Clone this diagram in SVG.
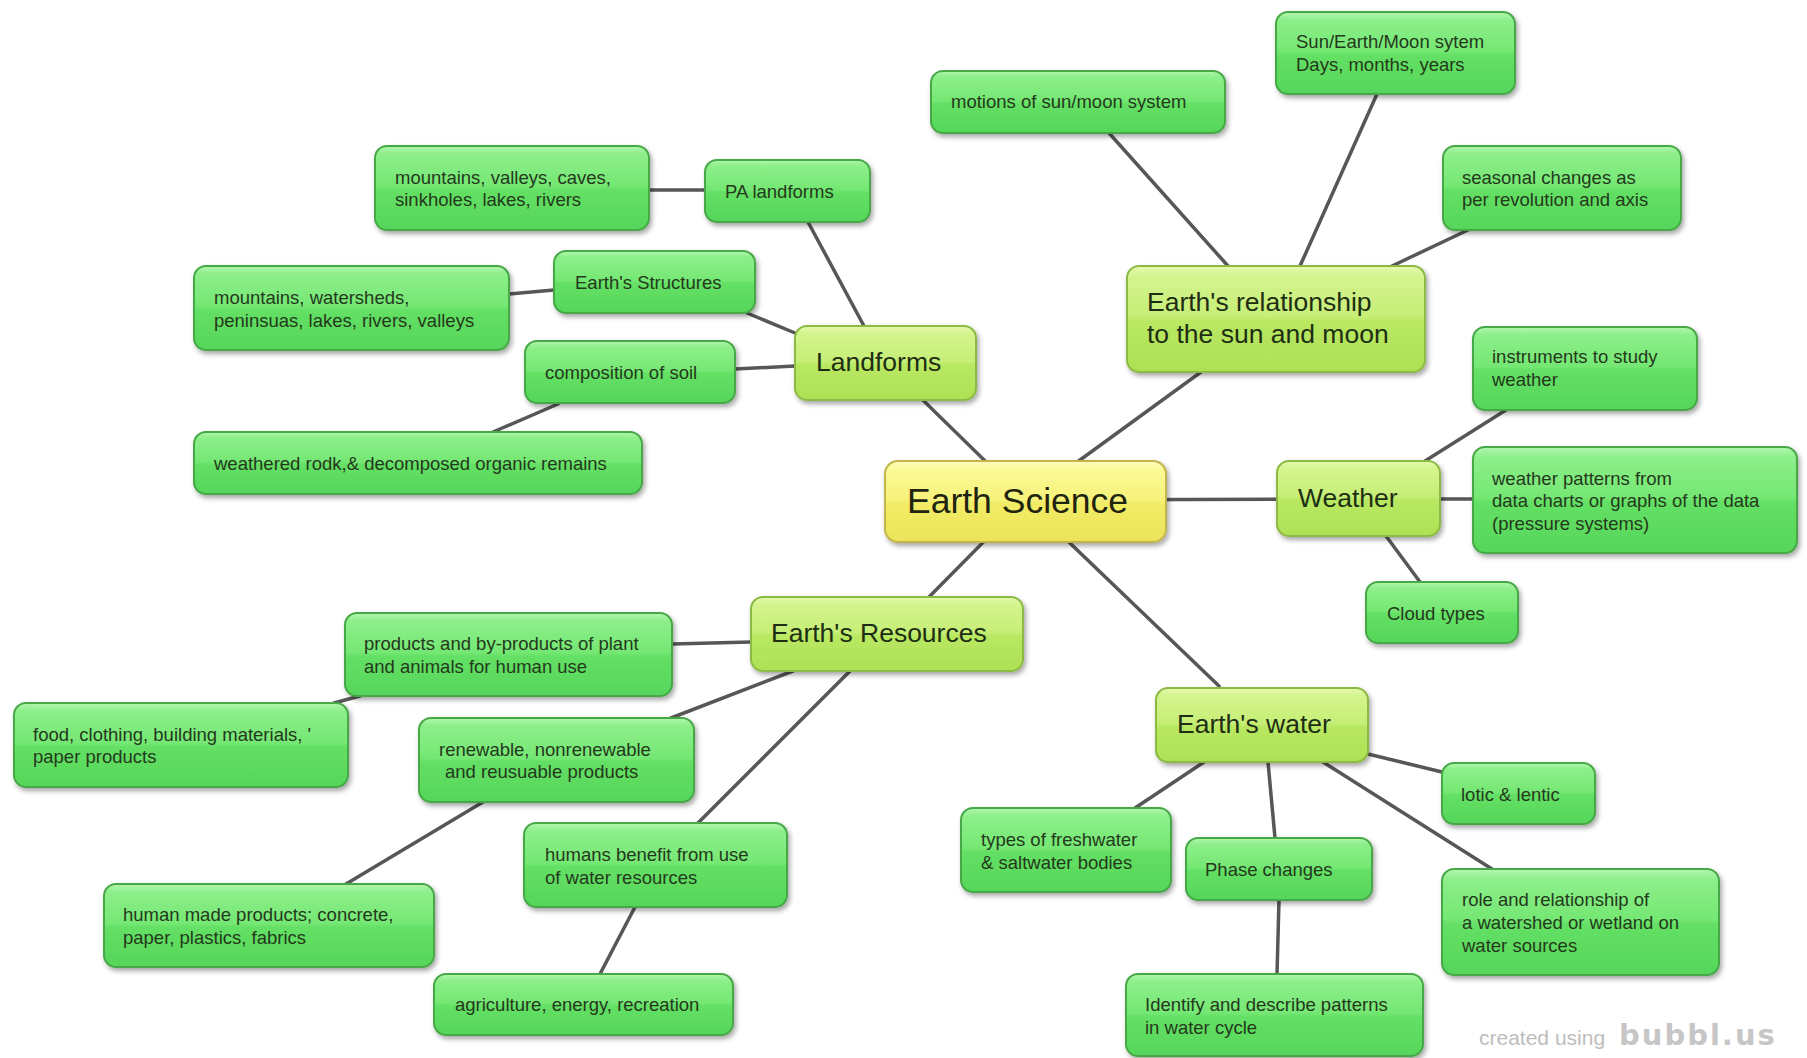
<svg xmlns="http://www.w3.org/2000/svg" width="1807" height="1058" viewBox="0 0 1807 1058">
<defs>
<linearGradient id="gg" x1="0" y1="0" x2="0" y2="1">
<stop offset="0" stop-color="#b2f6ae"/>
<stop offset="0.1" stop-color="#8def8a"/>
<stop offset="0.48" stop-color="#74e773"/>
<stop offset="0.52" stop-color="#64e065"/>
<stop offset="1" stop-color="#55d65a"/>
</linearGradient>
<linearGradient id="gy" x1="0" y1="0" x2="0" y2="1">
<stop offset="0" stop-color="#e6f9b0"/>
<stop offset="0.1" stop-color="#d4f48e"/>
<stop offset="0.48" stop-color="#c6ee76"/>
<stop offset="0.52" stop-color="#b9e862"/>
<stop offset="1" stop-color="#aee055"/>
</linearGradient>
<linearGradient id="gr" x1="0" y1="0" x2="0" y2="1">
<stop offset="0" stop-color="#fdfdc0"/>
<stop offset="0.1" stop-color="#fbf996"/>
<stop offset="0.48" stop-color="#f6f27a"/>
<stop offset="0.52" stop-color="#f2ec66"/>
<stop offset="1" stop-color="#ebe35a"/>
</linearGradient>
<filter id="sh" x="-10%" y="-10%" width="125%" height="135%">
<feDropShadow dx="2" dy="3" stdDeviation="2.5" flood-color="#000" flood-opacity="0.35"/>
</filter>
<style>
.g{fill:url(#gg);stroke:#47a847;stroke-width:2;filter:url(#sh)}
.y{fill:url(#gy);stroke:#8cba44;stroke-width:2;filter:url(#sh)}
.r{fill:url(#gr);stroke:#c2b54c;stroke-width:2;filter:url(#sh)}
text{font-family:"Liberation Sans",Arial,sans-serif;}
.t{font-size:18.5px;fill:#24391c}
.t1{font-size:26.5px;fill:#1e2e14}
.t0{font-size:35.5px;fill:#1f2410}
#connectors line{stroke:#575757;stroke-width:3.5;stroke-linecap:round}
</style>
</defs>
<rect x="0" y="0" width="1807" height="1058" fill="#ffffff"/>
<g id="connectors">
<line x1="1025" y1="500" x2="885" y2="363"/>
<line x1="1025" y1="500" x2="1201" y2="372"/>
<line x1="1025" y1="500" x2="1358" y2="499"/>
<line x1="1025" y1="500" x2="1219" y2="686"/>
<line x1="1025" y1="500" x2="929" y2="597"/>
<line x1="864" y1="326" x2="808" y2="222"/>
<line x1="795" y1="333" x2="747" y2="313"/>
<line x1="795" y1="366" x2="735" y2="369"/>
<line x1="705" y1="190" x2="649" y2="190"/>
<line x1="554" y1="290" x2="509" y2="294"/>
<line x1="558" y1="404" x2="493" y2="432"/>
<line x1="1228" y1="266" x2="1109" y2="133"/>
<line x1="1300" y1="266" x2="1377" y2="94"/>
<line x1="1392" y1="266" x2="1468" y2="230"/>
<line x1="1425" y1="461" x2="1506" y2="410"/>
<line x1="1440" y1="499" x2="1473" y2="499"/>
<line x1="1386" y1="536" x2="1420" y2="582"/>
<line x1="751" y1="642" x2="672" y2="644"/>
<line x1="793" y1="671" x2="671" y2="718"/>
<line x1="850" y1="671" x2="698" y2="823"/>
<line x1="360" y1="696" x2="334" y2="703"/>
<line x1="483" y1="802" x2="346" y2="884"/>
<line x1="635" y1="907" x2="600" y2="974"/>
<line x1="1204" y1="762" x2="1135" y2="808"/>
<line x1="1268" y1="762" x2="1275" y2="838"/>
<line x1="1323" y1="762" x2="1492" y2="869"/>
<line x1="1368" y1="754" x2="1442" y2="772"/>
<line x1="1279" y1="900" x2="1277" y2="974"/>
</g>

<g id="n-root"><rect class="r" x="885" y="461" width="281" height="81" rx="13"/><text class="t0" x="907" y="513">Earth Science</text></g>

<g id="n-landforms"><rect class="y" x="795" y="326" width="181" height="74" rx="12"/><text class="t1" x="816" y="371">Landforms</text></g>
<g id="n-relationship"><rect class="y" x="1127" y="266" width="298" height="106" rx="12"/><text class="t1" x="1147" y="311">Earth's relationship<tspan x="1147" y="343">to the sun and moon</tspan></text></g>
<g id="n-weather"><rect class="y" x="1277" y="461" width="163" height="75" rx="12"/><text class="t1" x="1298" y="507">Weather</text></g>
<g id="n-resources"><rect class="y" x="751" y="597" width="272" height="74" rx="12"/><text class="t1" x="771" y="642">Earth's Resources</text></g>
<g id="n-water"><rect class="y" x="1156" y="688" width="212" height="74" rx="12"/><text class="t1" x="1177" y="733">Earth's water</text></g>

<g id="n-motions"><rect class="g" x="931" y="71" width="294" height="62" rx="12"/><text class="t" x="951" y="108">motions of sun/moon system</text></g>
<g id="n-sunearth"><rect class="g" x="1276" y="12" width="239" height="82" rx="12"/><text class="t" x="1296" y="48">Sun/Earth/Moon sytem<tspan x="1296" y="71">Days, months, years</tspan></text></g>
<g id="n-seasonal"><rect class="g" x="1443" y="146" width="238" height="84" rx="12"/><text class="t" x="1462" y="184">seasonal changes as<tspan x="1462" y="206">per revolution and axis</tspan></text></g>
<g id="n-instruments"><rect class="g" x="1473" y="327" width="224" height="83" rx="12"/><text class="t" x="1492" y="363">instruments to study<tspan x="1492" y="386">weather</tspan></text></g>
<g id="n-patterns"><rect class="g" x="1473" y="447" width="324" height="106" rx="12"/><text class="t" x="1492" y="485">weather patterns from<tspan x="1492" y="507">data charts or graphs of the data</tspan><tspan x="1492" y="530">(pressure systems)</tspan></text></g>
<g id="n-cloud"><rect class="g" x="1366" y="582" width="152" height="61" rx="12"/><text class="t" x="1387" y="620">Cloud types</text></g>

<g id="n-pa"><rect class="g" x="705" y="160" width="165" height="62" rx="12"/><text class="t" x="725" y="198">PA landforms</text></g>
<g id="n-mvc"><rect class="g" x="375" y="146" width="274" height="84" rx="12"/><text class="t" x="395" y="184">mountains, valleys, caves,<tspan x="395" y="206">sinkholes, lakes, rivers</tspan></text></g>
<g id="n-structures"><rect class="g" x="554" y="251" width="201" height="62" rx="12"/><text class="t" x="575" y="289">Earth's Structures</text></g>
<g id="n-mws"><rect class="g" x="194" y="266" width="315" height="84" rx="12"/><text class="t" x="214" y="304">mountains, watersheds,<tspan x="214" y="327">peninsuas, lakes, rivers, valleys</tspan></text></g>
<g id="n-soil"><rect class="g" x="525" y="341" width="210" height="62" rx="12"/><text class="t" x="545" y="379">composition of soil</text></g>
<g id="n-weathered"><rect class="g" x="194" y="432" width="448" height="62" rx="12"/><text class="t" x="214" y="470">weathered rodk,&amp; decomposed organic remains</text></g>

<g id="n-products"><rect class="g" x="345" y="613" width="327" height="83" rx="12"/><text class="t" x="364" y="650">products and by-products of plant<tspan x="364" y="673">and animals for human use</tspan></text></g>
<g id="n-food"><rect class="g" x="14" y="703" width="334" height="84" rx="12"/><text class="t" x="33" y="741">food, clothing, building materials, '<tspan x="33" y="763">paper products</tspan></text></g>
<g id="n-renewable"><rect class="g" x="419" y="718" width="275" height="84" rx="12"/><text class="t" x="439" y="756">renewable, nonrenewable<tspan x="445" y="778">and reusuable products</tspan></text></g>
<g id="n-humansbenefit"><rect class="g" x="524" y="823" width="263" height="84" rx="12"/><text class="t" x="545" y="861">humans benefit from use<tspan x="545" y="884">of water resources</tspan></text></g>
<g id="n-humanmade"><rect class="g" x="104" y="884" width="330" height="83" rx="12"/><text class="t" x="123" y="921">human made products; concrete,<tspan x="123" y="944">paper, plastics, fabrics</tspan></text></g>
<g id="n-agriculture"><rect class="g" x="434" y="974" width="299" height="61" rx="12"/><text class="t" x="455" y="1011">agriculture, energy, recreation</text></g>

<g id="n-lotic"><rect class="g" x="1442" y="763" width="153" height="61" rx="12"/><text class="t" x="1461" y="801">lotic &amp; lentic</text></g>
<g id="n-types"><rect class="g" x="961" y="808" width="210" height="84" rx="12"/><text class="t" x="981" y="846">types of freshwater<tspan x="981" y="869">&amp; saltwater bodies</tspan></text></g>
<g id="n-phase"><rect class="g" x="1186" y="838" width="186" height="62" rx="12"/><text class="t" x="1205" y="876">Phase changes</text></g>
<g id="n-role"><rect class="g" x="1442" y="869" width="277" height="106" rx="12"/><text class="t" x="1462" y="906">role and relationship of<tspan x="1462" y="929">a watershed or wetland on</tspan><tspan x="1462" y="952">water sources</tspan></text></g>
<g id="n-identify"><rect class="g" x="1126" y="974" width="297" height="82" rx="12"/><text class="t" x="1145" y="1011">Identify and describe patterns<tspan x="1145" y="1034">in water cycle</tspan></text></g>

<g id="credit"><text x="1479" y="1045" style="font-size:21px;fill:#bdbdbd">created using</text><text x="1619" y="1045" style="font-size:29px;font-weight:bold;letter-spacing:2px;fill:#c6c6c6;font-family:'DejaVu Sans',sans-serif">bubbl.us</text></g>
</svg>
